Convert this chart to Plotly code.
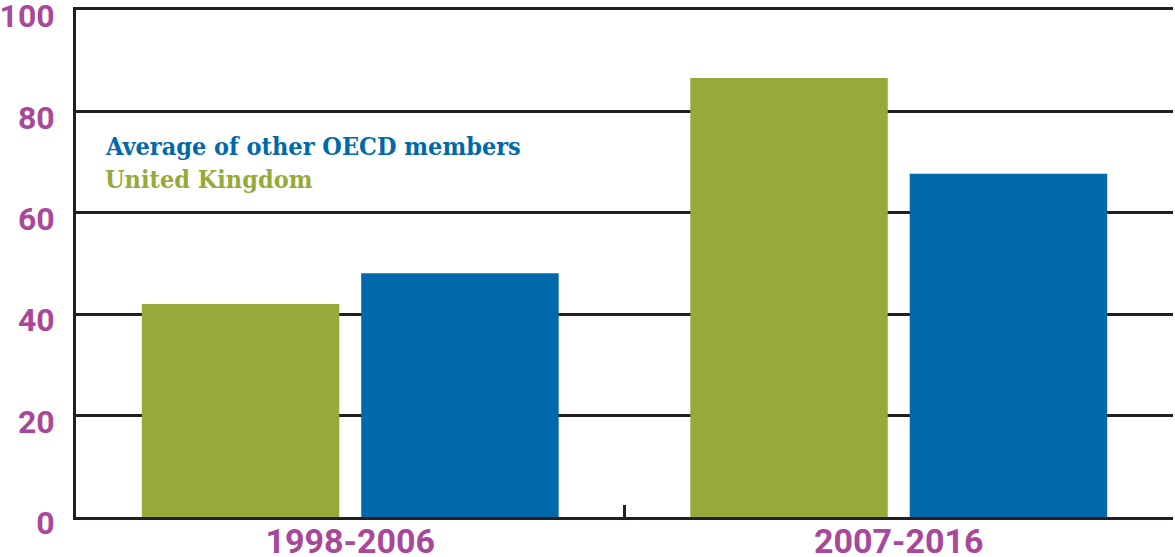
import plotly.graph_objects as go

# Periods on the x axis
periods = ["1998-2006", "2007-2016"]

# Series values
uk_values = [42.0, 86.6]
oecd_values = [48.1, 67.7]

# Y tick values / labels
y_ticks = [0, 20, 40, 60, 80, 100]
y_tick_labels = ["0", "20", "40", "60", "80", "100"]

GREEN = "#97a93b"
BLUE = "#0069aa"
MAGENTA = "#a8489b"
DARK = "#231f20"

W, H = 1175, 557
ML, MR, MT, MB = 76, 2, 10, 40

fig = go.Figure()
fig.add_trace(go.Bar(x=periods, y=uk_values, name="United Kingdom",
                     marker=dict(color=GREEN, line=dict(width=0))))
fig.add_trace(go.Bar(x=periods, y=oecd_values, name="Average of other OECD members",
                     marker=dict(color=BLUE, line=dict(width=0))))

fig.update_layout(
    width=W, height=H,
    margin=dict(l=ML, r=MR, t=MT, b=MB),
    paper_bgcolor="white", plot_bgcolor="white",
    barmode="group", bargap=0.2, bargroupgap=0.1,
    showlegend=False,
    font=dict(family="Roboto", color=MAGENTA),
)

fig.update_xaxes(
    automargin=False,
    showgrid=False,
    showline=True, linecolor=DARK, linewidth=3, mirror=True,
    ticks="inside", tickson="boundaries", ticklen=12, tickwidth=3, tickcolor=DARK,
    tickfont=dict(family="Roboto", size=34, color=MAGENTA, weight="bold"),
    ticklabelstandoff=-8, ticklabeloverflow="allow",
)
fig.update_yaxes(
    automargin=False,
    range=[0, 100],
    tickvals=y_ticks, ticktext=y_tick_labels,
    showgrid=True, gridcolor=DARK, gridwidth=3,
    zeroline=False,
    showline=True, linecolor=DARK, linewidth=3,
    ticks="",
    tickfont=dict(family="Roboto", size=32, color=MAGENTA, weight="bold"),
    ticklabelstandoff=12, ticklabelshift=6, ticklabeloverflow="allow",
)

# Legend written as coloured text inside the plot
legend_lines = [("Average of other OECD members", BLUE, 146),
                ("United Kingdom", GREEN, 180)]
for text, color, ypix in legend_lines:
    fig.add_annotation(
        xref="paper", yref="paper",
        x=(103 - ML) / (W - ML - MR),
        y=1 - (ypix - MT) / (H - MT - MB),
        xanchor="left", yanchor="middle",
        text=f"<b>{text}</b>", showarrow=False,
        font=dict(family="DejaVu Serif Condensed, DejaVu Serif", size=25, color=color),
    )

fig.write_html("out.html")
